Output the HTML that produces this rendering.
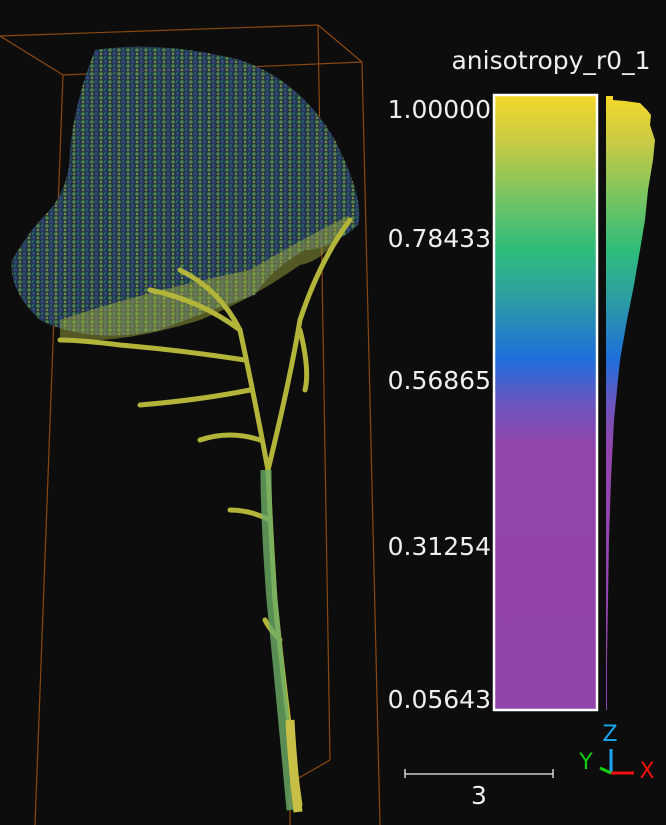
<!DOCTYPE html>
<html><head><meta charset="utf-8"><style>
body{margin:0;background:#0d0d0d;width:666px;height:825px;overflow:hidden;font-family:"DejaVu Sans","Liberation Sans",sans-serif}
svg{display:block}
</style></head><body>
<svg width="666" height="825">
<defs>
<linearGradient id="cmap" x1="0" y1="0" x2="0" y2="1">
<stop offset="0" stop-color="#f6d72a"/>
<stop offset="0.08" stop-color="#c5ca45"/>
<stop offset="0.16" stop-color="#7cc45f"/>
<stop offset="0.25" stop-color="#2fbd7a"/>
<stop offset="0.33" stop-color="#2b9ea2"/>
<stop offset="0.43" stop-color="#1f6edc"/>
<stop offset="0.5" stop-color="#6a56c0"/>
<stop offset="0.57" stop-color="#9245ac"/>
<stop offset="1" stop-color="#9144ab"/>
</linearGradient>
<pattern id="dots" width="9" height="8" patternUnits="userSpaceOnUse">
<rect width="9" height="8" fill="#243f55"/>
<circle cx="2" cy="2" r="1.8" fill="#5f9556"/><circle cx="6.5" cy="5.5" r="1.7" fill="#3d4f94"/><circle cx="6" cy="1.5" r="1.1" fill="#2f8080"/><circle cx="2" cy="6" r="1.2" fill="#98a43c"/>
</pattern>
</defs>
<g stroke="#8a4810" stroke-width="1.2" fill="none">
<line x1="0" y1="36" x2="318" y2="25"/><line x1="318" y1="25" x2="362" y2="62"/>
<line x1="0" y1="36" x2="63" y2="75"/><line x1="63" y1="75" x2="362" y2="62"/>
<line x1="63" y1="75" x2="35" y2="825"/><line x1="362" y1="62" x2="380" y2="825"/>
<line x1="318" y1="25" x2="330" y2="760"/><line x1="290" y1="783" x2="330" y2="760"/><line x1="290" y1="783" x2="290" y2="825"/>
</g>
<g>
<path d="M95,50 Q160,40 240,60 Q300,80 335,140 Q365,200 358,225 Q330,250 305,250 Q270,270 255,295 Q210,310 160,330 Q90,345 40,320 Q8,290 12,260 Q30,230 45,215 Q70,190 70,150 Q75,100 95,50Z" fill="url(#dots)" opacity="0.85"/>
<path d="M60,320 Q150,290 250,270 Q300,240 350,215 Q330,260 300,265 Q250,300 200,320 Q120,345 60,340Z" fill="#a8b343" opacity="0.45"/>
<g stroke="#b3b53a" stroke-width="5" fill="none" stroke-linecap="round">
<path d="M300,805 Q285,700 275,600 Q270,520 268,470 Q255,400 240,330 Q220,290 180,270"/>
<path d="M268,470 Q290,380 300,320 Q320,260 350,220"/>
<path d="M245,360 Q180,350 120,345 Q80,340 60,340"/>
<path d="M250,390 Q200,400 140,405"/>
<path d="M260,440 Q230,430 200,440"/>
<path d="M280,640 Q270,630 265,620"/>
<path d="M270,520 Q250,510 230,510"/>
<path d="M240,330 Q200,300 150,290"/>
<path d="M300,330 Q310,370 305,390"/>
</g>
<path d="M292,810 Q282,700 272,600 Q266,520 266,470" stroke="#6cae66" stroke-width="11" fill="none" opacity="0.8"/>
<path d="M298,812 Q292,760 290,720" stroke="#c8c046" stroke-width="9" fill="none"/>
</g>
<text x="551" y="69" fill="#eee" font-size="25" text-anchor="middle">anisotropy_r0_1</text>
<rect x="494" y="95" width="103" height="615" fill="url(#cmap)" stroke="#fff" stroke-width="2.5"/>
<path d="M606,96 L613,96 L613,100 L625,101 L640,103 L647,110 L651,115 L650,125 L655,140 L653,160 L648,190 L645,220 L640,250 L634,285 L627,320 L620,360 L614,420 L611,480 L609,540 L608,600 L607,660 L607,710 L606,710Z" fill="url(#cmap)"/>
<g fill="#eee" font-size="25" text-anchor="end">
<text x="491" y="118">1.00000</text><text x="491" y="247">0.78433</text><text x="491" y="389">0.56865</text><text x="491" y="555">0.31254</text><text x="491" y="708">0.05643</text>
</g>
<g stroke="#eee" stroke-width="1.3">
<line x1="405" y1="774" x2="553" y2="774"/><line x1="405" y1="769" x2="405" y2="778"/><line x1="553" y1="769" x2="553" y2="778"/>
</g>
<text x="479" y="804" fill="#eee" font-size="25" text-anchor="middle">3</text>
<g font-size="22">
<line x1="611" y1="749" x2="611" y2="774" stroke="#1aa7f0" stroke-width="3"/>
<line x1="611" y1="773" x2="634" y2="773" stroke="#f01010" stroke-width="3"/>
<line x1="600" y1="768" x2="611" y2="773" stroke="#10d010" stroke-width="3"/>
<text x="610" y="741" fill="#1aa7f0" text-anchor="middle">Z</text>
<text x="586" y="769" fill="#10d010" text-anchor="middle">Y</text>
<text x="647" y="778" fill="#f01010" text-anchor="middle">X</text>
</g>
</svg>
</body></html>
